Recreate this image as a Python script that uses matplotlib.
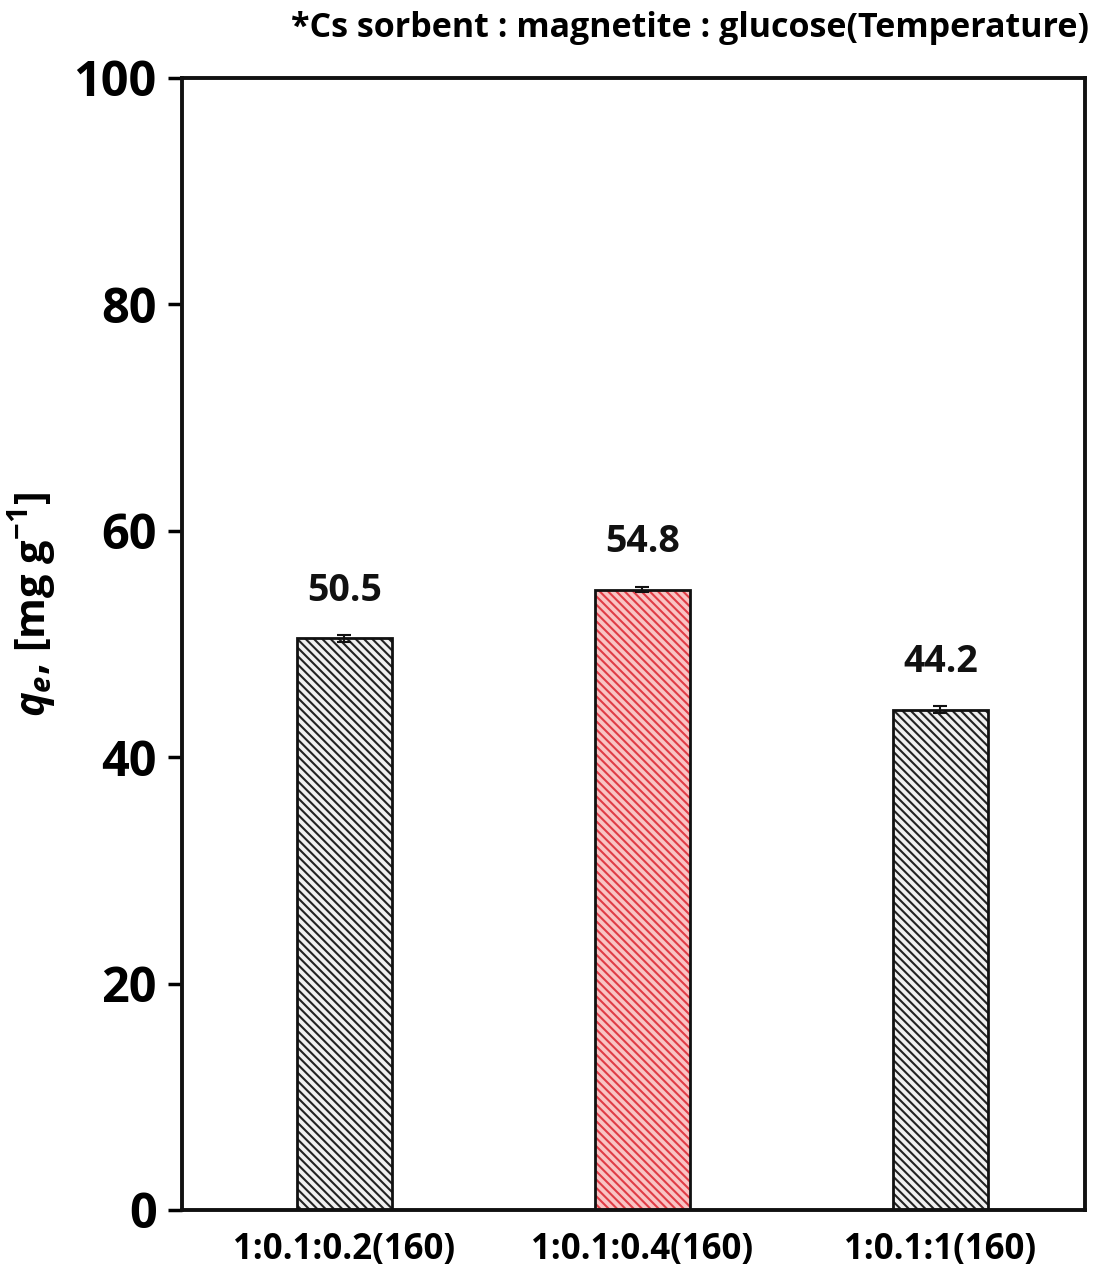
import matplotlib.pyplot as plt
import numpy as np

plt.rcParams["font.family"] = ["Open Sans", "DejaVu Sans"]
plt.rcParams["mathtext.fontset"] = "custom"
plt.rcParams["mathtext.it"] = "Open Sans:italic:bold"
plt.rcParams["mathtext.rm"] = "Open Sans:bold"
plt.rcParams["mathtext.bf"] = "Open Sans:bold"
plt.rcParams["hatch.linewidth"] = 1.5

# --- data ---
categories = ["1:0.1:0.2(160)", "1:0.1:0.4(160)", "1:0.1:1(160)"]
qe_values = [50.5, 54.8, 44.2]
qe_errors = [0.3, 0.2, 0.3]
value_labels = ["50.5", "54.8", "44.2"]
hatch_colors = ["#222222", "#e03c46", "#222222"]
face_colors = ["#f0f0f0", "#f9c4c4", "#f0f0f0"]

fig = plt.figure(figsize=(11.02, 12.82), dpi=100)
ax = fig.add_axes([0.165, 0.0562, 0.8196, 0.8830])

x = np.arange(len(categories))
width = 0.32

# hatched fill, then black outline on top
ax.bar(x, qe_values, width, color=face_colors, edgecolor=hatch_colors,
       hatch="\\\\\\\\", linewidth=0, zorder=2)
ax.bar(x, qe_values, width, fill=False, edgecolor="#111111",
       linewidth=2.0, zorder=3)
ax.errorbar(x, qe_values, yerr=qe_errors, fmt="none", ecolor="#111111",
            elinewidth=1.5, capsize=5, capthick=1.5, zorder=4)

for xi, v, lab in zip(x, qe_values, value_labels):
    ax.text(xi, v + 2.5, lab, ha="center", va="bottom", fontsize=27,
            fontweight="bold", color="#111111")

ax.set_xlim(-0.545, 2.485)
ax.set_ylim(0, 100)
ax.set_yticks([0, 20, 40, 60, 80, 100])
ax.set_xticks(x)
ax.set_xticklabels(categories, fontsize=25, fontweight="bold")
ax.tick_params(axis="x", length=0, pad=16)
ax.tick_params(axis="y", labelsize=35, width=2.5, length=10, direction="out",
               pad=8)
for lab in ax.get_yticklabels():
    lab.set_fontweight("bold")

for spine in ax.spines.values():
    spine.set_linewidth(2.8)
    spine.set_color("#111111")

ax.set_ylabel(r"$q_{e}$, [mg g$^{-1}$]", fontsize=30, fontweight="bold")
ax.yaxis.set_label_coords(-0.137, 0.535)

fig.text(0.988, 0.978, "*Cs sorbent : magnetite : glucose(Temperature)",
         ha="right", va="center", fontsize=24.5, fontweight="bold")

fig.savefig("out.png", dpi=100, facecolor="white")
